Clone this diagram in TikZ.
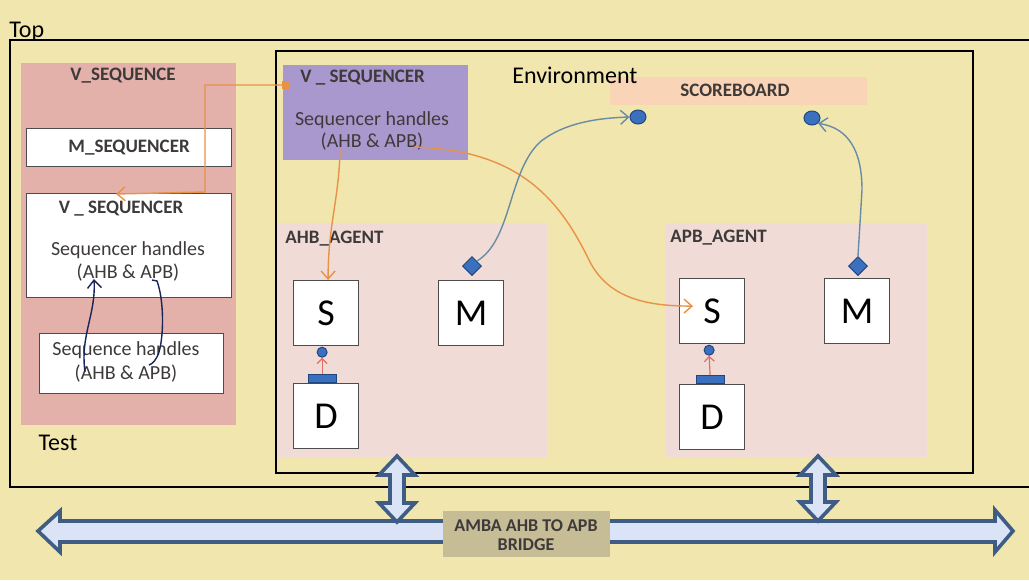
\documentclass[tikz,border=0pt]{standalone}
\usepackage{fontspec}
\setmainfont{Carlito}
\usetikzlibrary{arrows.meta,calc,shapes.geometric}
\definecolor{bg}{RGB}{241,230,174}
\definecolor{testpink}{RGB}{228,176,170}
\definecolor{agentpink}{RGB}{241,219,214}
\definecolor{purplebox}{RGB}{168,152,206}
\definecolor{peach}{RGB}{250,212,182}
\definecolor{tan}{RGB}{198,188,150}
\definecolor{busfill}{RGB}{218,228,246}
\definecolor{busline}{RGB}{62,92,132}
\definecolor{dotfill}{RGB}{58,112,190}
\definecolor{dotline}{RGB}{32,70,128}
\definecolor{oline}{RGB}{232,146,70}
\definecolor{gline}{RGB}{104,140,165}
\definecolor{navy}{RGB}{26,36,88}
\definecolor{lbl}{RGB}{62,58,58}
\definecolor{redarrow}{RGB}{225,110,100}
\tikzset{
  region/.style={anchor=north west, inner sep=0pt, draw=none},
  wbox/.style={anchor=north west, inner sep=0pt, draw=black!70, fill=white, line width=0.6pt},
  agbox/.style={wbox, minimum width=32.5pt, minimum height=32.5pt, font=\fontsize{19}{22}\selectfont},
  caplbl/.style={font=\fontsize{9.5}{11}\selectfont\bfseries, text=lbl, inner sep=0pt},
  brlbl/.style={font=\fontsize{9}{11}\selectfont\bfseries, text=lbl, inner sep=0pt},
  txt/.style={font=\fontsize{10}{12}\selectfont, text=lbl, inner sep=0pt},
  big/.style={font=\fontsize{12}{14}\selectfont, text=black, inner sep=0pt},
  dot/.style={ellipse, fill=dotfill, draw=dotline, line width=0.5pt, minimum width=8pt, minimum height=7pt, inner sep=0pt},
  sdot/.style={circle, fill=dotfill, draw=dotline, line width=0.5pt, minimum size=5pt, inner sep=0pt},
  dia/.style={diamond, fill=dotfill, draw=dotline, line width=0.5pt, minimum size=9.5pt, inner sep=0pt},
  plug/.style={rectangle, fill=dotfill, draw=dotline, line width=0.5pt, minimum width=14pt, minimum height=4pt, inner sep=0pt},
  oarrow/.style={draw=oline, line width=0.7pt, -{Straight Barb[length=4pt,width=7pt]}},
  garrow/.style={draw=gline, line width=0.7pt, -{Straight Barb[length=4pt,width=7pt]}},
  narrow/.style={draw=navy, line width=0.7pt},
  bus/.style={fill=busfill, draw=busline, line width=1.8pt, line join=miter}
}
\begin{document}
\begin{tikzpicture}[x=0.5pt,y=-0.5pt]
\useasboundingbox (0,0) rectangle (1029,580);
\fill[bg] (0,0) rectangle (1029,580);

% Top frame
\draw[line width=0.8pt] (1029,40) -- (10,40) -- (10,487) -- (1029,487);
\node[big, anchor=base west] (toplbl) at (9,37) {Top};

% Test region
\node[region, fill=testpink, minimum width=107.5pt, minimum height=181pt] (test) at (21,63) {};
\node[big] (testlbl) at (58,443) {Test};
\node[caplbl] (vseqlbl) at (123,76) {V\_SEQUENCE};
\node[wbox, minimum width=102.5pt, minimum height=19pt] (mseq) at (26,128) {};
\node[caplbl] (mseqlbl) at (mseq.center) {M\_SEQUENCER};
\node[wbox, minimum width=102.5pt, minimum height=52pt] (vseqbox) at (26,193) {};
\node[caplbl] (vseqt1) at (121,209) {V \_ SEQUENCER};
\node[txt] (vseqt2) at (128,250) {Sequencer handles};
\node[txt] (vseqt3) at (128,273) {(AHB \& APB)};
\node[wbox, minimum width=92pt, minimum height=30pt] (seqh) at (39,333) {};
\node[txt] (seqht1) at (126,350) {Sequence handles};
\node[txt] (seqht2) at (126,374) {(AHB \& APB)};

% Environment
\node[region, draw=black, line width=0.8pt, minimum width=348.5pt, minimum height=211pt] (env) at (275,50) {};
\node[region, fill=purplebox, minimum width=92.5pt, minimum height=47.5pt] (vsq) at (283,65) {};
\node[caplbl, anchor=west] (vsqt1) at (300,78) {V \_ SEQUENCER};
\node[txt] (vsqt2) at (372,120) {Sequencer handles};
\node[txt] (vsqt3) at (372,142) {(AHB \& APB)};
\node[region, fill=peach, minimum width=128.5pt, minimum height=14pt] (sb) at (610,77) {};
\node[caplbl] (sblbl) at (735,90) {SCOREBOARD};
\node[big] (envlbl) at (575,75) {Environment};
\node[dot] (sc1) at (638,117) {};
\node[dot] (sc2) at (812,118) {};

% Agents
\node[region, fill=agentpink, minimum width=135pt, minimum height=117pt] (ahb) at (277,223) {};
\node[caplbl, anchor=west] (ahblbl) at (285,239) {AHB\_AGENT};
\node[region, fill=agentpink, minimum width=131pt, minimum height=117pt] (apb) at (665,223) {};
\node[caplbl, anchor=west] (apblbl) at (670,238) {APB\_AGENT};

\node[agbox] (ahbS) at (293,280) {S};
\node[agbox] (ahbM) at (438,280) {M};
\node[agbox] (ahbD) at (293,383) {D};
\node[agbox] (apbS) at (679,278) {S};
\node[agbox] (apbM) at (824,278) {M};
\node[agbox] (apbD) at (679,384) {D};

\node[sdot] (ahbSd) at ($(ahbS.south)+(-4,6)$) {};
\node[plug, anchor=south] (ahbDp) at ($(ahbD.north)+(-4,0)$) {};
\node[sdot] (apbSd) at ($(apbS.south)+(-3,6)$) {};
\node[plug, anchor=south] (apbDp) at ($(apbD.north)+(-2,0)$) {};
\node[dia] (ahbMd) at (472,266) {};
\node[dia] (apbMd) at (858,266) {};

\draw[draw=redarrow, line width=0.6pt, -{Straight Barb[length=2.5pt,width=5pt]}] (ahbDp.north) -- (ahbSd.south);
\draw[draw=redarrow, line width=0.6pt, -{Straight Barb[length=2.5pt,width=5pt]}] (apbDp.north) -- (apbSd.south);

% Orange connectors
\coordinate (o1) at (286,85);
\fill[oline] ($(o1)+(-4,-4)$) rectangle ($(o1)+(4,4)$);
\draw[oarrow] (o1) -- (205,85) -- (205,192) -- ($(vseqbox.north)+(-13,1)$);
\draw[oarrow] (340,150) .. controls (339,200) and (328,225) .. ($(ahbS.north)+(2,0)$);
\draw[oarrow] (414,147) .. controls (520,150) and (560,200) .. (590,262) .. controls (610,300) and (650,306) .. ($(apbS.west)+(14,-5)$);

% Scoreboard connectors
\draw[garrow] (ahbMd.north east) .. controls (512,240) and (508,172) .. (540,142) .. controls (565,122) and (600,118) .. (sc1.west);
\draw[garrow] (apbMd.north) -- (862,190) .. controls (862,150) and (848,128) .. (sc2.south east);

% Navy handle connectors
\draw[narrow, -{Straight Barb[length=4pt,width=7pt]}] (85,372) .. controls (80,335) and (96,315) .. (94,279);
\draw[narrow] (152,280) -- (157,281) .. controls (164,300) and (164,335) .. (159,352) .. controls (156,361) and (152,364) .. (149,365);

% Bus
\draw[bus] (38,531) -- (60,511) -- (60,521) -- (995,521) -- (995,510) -- (1013,531) -- (995,552) -- (995,542) -- (60,542) -- (60,552) -- cycle;
\draw[bus] (397,456) -- (415,475) -- (404,475) -- (404,503) -- (415,503) -- (397,522) -- (379,503) -- (390,503) -- (390,475) -- (379,475) -- cycle;
\draw[bus] (818,456) -- (836,475) -- (825,475) -- (825,502) -- (836,502) -- (818,521) -- (800,502) -- (811,502) -- (811,475) -- (800,475) -- cycle;
\node[region, fill=tan, minimum width=83.5pt, minimum height=23pt] (bridge) at (443,511) {};
\node[brlbl] (br1) at (526,526) {AMBA AHB TO APB};
\node[brlbl] (br2) at (526,545) {BRIDGE};
\end{tikzpicture}
\end{document}
